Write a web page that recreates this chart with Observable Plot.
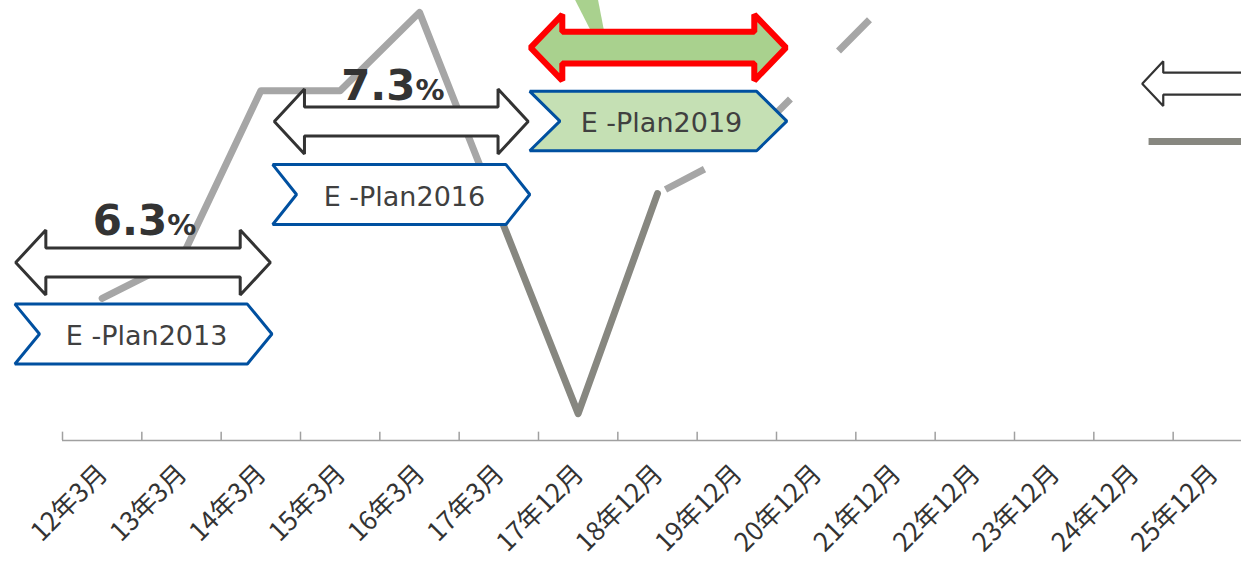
<!DOCTYPE html>
<html><head><meta charset="utf-8">
<script src="https://cdn.jsdelivr.net/npm/d3@7"></script>
<script src="https://cdn.jsdelivr.net/npm/@observablehq/plot@0.6"></script>
<style>html,body{margin:0;padding:0;background:#fff;overflow:hidden}</style>
</head><body><div id="chart"></div>
<script>
// ---- data ----
const categories = ["12年3月","13年3月","14年3月","15年3月","16年3月","17年3月","17年12月","18年12月","19年12月","20年12月","21年12月","22年12月","23年12月","24年12月","25年12月"];
const actualIdx = [0, 1, 2, 3, 4, 5];
const actualValues = [32.3, 41.4, 79.5, 79.5, 97.3, 51.6];
const recentIdx = [5, 6, 7];
const recentValues = [51.6, 6.1, 56.1];
const forecastIdx = [7, 8, 9, 10];
const forecastValues = [56.1, 65.5, 83.4, 101.6];

const planNames = ["E -Plan2013", "E -Plan2016", "E -Plan2019"];
const planStart = [-1.1, 2.15, 5.39];
const planEnd = [2.14, 5.39, 8.63];
const planY = [24.2, 55.9, 72.6];
const planNotch = [0.31, 0.3, 0.38];

const growthLabels = ["6.3", "7.3"];
const growthStart = [-1.09, 2.17];
const growthEnd = [2.12, 5.37];
const growthY = [40.45, 72.5];
const growthLabelX = [0.82, 3.95];
const growthLabelY = [46.6, 77.3];

const targetStart = [5.40];
const targetEnd = [8.62];
const targetY = [89.3];

const wedgeX = [5.88, 6.22, 6.33, 6.17];
const wedgeY = [103, 103, 92.7, 92.7];

const legendArrowStart = [13.11];
const legendArrowEnd = [14.9];
const legendArrowY = [81.1];
const legendLineX = [13.19, 14.9];
const legendLineY = [67.95, 67.95];

// ---- shape builders (data units) ----
function doubleArrow(id, x1, x2, y, sh, hh, hl) {
  return [[x1, y], [x1 + hl, y + hh], [x1 + hl, y + sh], [x2 - hl, y + sh], [x2 - hl, y + hh], [x2, y],
          [x2 - hl, y - hh], [x2 - hl, y - sh], [x1 + hl, y - sh], [x1 + hl, y - hh]].map(([x, yy]) => ({id, x, y: yy}));
}
function leftArrow(id, x1, x2, y, sh, hh, hl) {
  return [[x1, y], [x1 + hl, y + hh], [x1 + hl, y + sh], [x2, y + sh], [x2, y - sh], [x1 + hl, y - sh], [x1 + hl, y - hh]]
    .map(([x, yy]) => ({id, x, y: yy}));
}
function chevron(id, x1, x2, y, h, d) {
  return [[x1, y + h], [x2 - d, y + h], [x2, y], [x2 - d, y - h], [x1, y - h], [x1 + d, y]].map(([x, yy]) => ({id, x, y: yy}));
}

const actual = actualIdx.map((x, i) => ({x, y: actualValues[i]}));
const recent = recentIdx.map((x, i) => ({x, y: recentValues[i]}));
const forecast = forecastIdx.map((x, i) => ({x, y: forecastValues[i]}));

const growthShapes = growthLabels.flatMap((g, i) => doubleArrow(i, growthStart[i], growthEnd[i], growthY[i], 3.3, 7.4, 0.38));
const targetShape = doubleArrow(0, targetStart[0], targetEnd[0], targetY[0], 3.6, 7.5, 0.4);
const planWhite = [0, 1].flatMap(i => chevron(i, planStart[i], planEnd[i], planY[i], 6.8, planNotch[i]));
const planGreen = chevron(2, planStart[2], planEnd[2], planY[2], 6.75, planNotch[2]);
const wedge = wedgeX.map((x, i) => ({id: 0, x, y: wedgeY[i]}));
const legendArrow = leftArrow(0, legendArrowStart[0], legendArrowEnd[0], legendArrowY[0], 2.5, 5.1, 0.265);
const legendLine = legendLineX.map((x, i) => ({x, y: legendLineY[i]}));
const tickPositions = d3.range(categories.length + 1).map(i => i - 0.5);

const grey = "#a6a6a6", olive = "#878780", dark = "#333333", blue = "#0050a0";
const latin = "DejaVu Sans, Verdana, sans-serif";

const chart = Plot.plot({
  width: 1241, height: 561, margin: 0,
  x: {type: "linear", domain: [-0.5, 14.5], range: [62, 1252], axis: null},
  y: {type: "linear", domain: [0, 100], range: [440, 0], axis: null},
  style: {background: "white"},
  marks: [
    // axis
    Plot.ruleY([0], {x1: -0.5, x2: 14.6, stroke: "#a0a0a0", strokeWidth: 1.5}),
    Plot.ruleX(tickPositions, {x: d => d, y1: 0, y2: 1.9, stroke: "#a0a0a0", strokeWidth: 1.5}),
    Plot.text(categories, {x: (d, i) => i, y: 0, text: d => d, rotate: -45, textAnchor: "end", lineAnchor: "middle",
      dx: 1, dy: 29, fontSize: 26, fontFamily: "Noto Sans CJK JP, sans-serif", fill: "#333"}),
    // series lines
    Plot.line(actual, {x: "x", y: "y", stroke: grey, strokeWidth: 7, strokeLinejoin: "round", strokeLinecap: "round"}),
    Plot.line(forecast, {x: "x", y: "y", stroke: grey, strokeWidth: 7, strokeDasharray: "44,68", strokeDashoffset: 103, strokeLinecap: "butt"}),
    Plot.line(recent, {x: "x", y: "y", stroke: olive, strokeWidth: 7, strokeLinejoin: "round", strokeLinecap: "round"}),
    // green wedge
    Plot.line(wedge, {x: "x", y: "y", z: "id", curve: "linear-closed", fill: "#a9d18e", stroke: "none"}),
    // growth arrows
    Plot.line(growthShapes, {x: "x", y: "y", z: "id", curve: "linear-closed", fill: "white", stroke: dark, strokeWidth: 3, strokeLinejoin: "miter"}),
    // target arrow
    Plot.line(targetShape, {x: "x", y: "y", z: "id", curve: "linear-closed", fill: "#a9d18e", stroke: "#ff0000", strokeWidth: 6, strokeLinejoin: "miter"}),
    // plan chevrons
    Plot.line(planWhite, {x: "x", y: "y", z: "id", curve: "linear-closed", fill: "white", stroke: blue, strokeWidth: 3, strokeLinejoin: "miter"}),
    Plot.line(planGreen, {x: "x", y: "y", z: "id", curve: "linear-closed", fill: "#c5e0b4", stroke: blue, strokeWidth: 3, strokeLinejoin: "miter"}),
    Plot.text(planNames, {x: (d, i) => (planStart[i] + planEnd[i]) / 2 + 0.04, y: (d, i) => planY[i] - 0.6, text: d => d,
      fontSize: 27, fontFamily: latin, fill: "#404040", textAnchor: "middle", lineAnchor: "middle"}),
    // growth labels
    Plot.text(growthLabels, {x: (d, i) => growthLabelX[i], y: (d, i) => growthLabelY[i], text: d => d, textAnchor: "end", lineAnchor: "bottom",
      fontSize: 42, fontWeight: "bold", fontFamily: latin, fill: dark}),
    Plot.text(growthLabels, {x: (d, i) => growthLabelX[i], y: (d, i) => growthLabelY[i], text: () => "%", textAnchor: "start", lineAnchor: "bottom",
      fontSize: 29, fontWeight: "bold", fontFamily: latin, fill: dark}),
    // legend fragments
    Plot.line(legendArrow, {x: "x", y: "y", z: "id", curve: "linear-closed", fill: "white", stroke: dark, strokeWidth: 2.2, strokeLinejoin: "miter"}),
    Plot.line(legendLine, {x: "x", y: "y", stroke: olive, strokeWidth: 7, strokeLinecap: "butt"})
  ]
});
document.getElementById("chart").appendChild(chart);
</script>
</body></html>
